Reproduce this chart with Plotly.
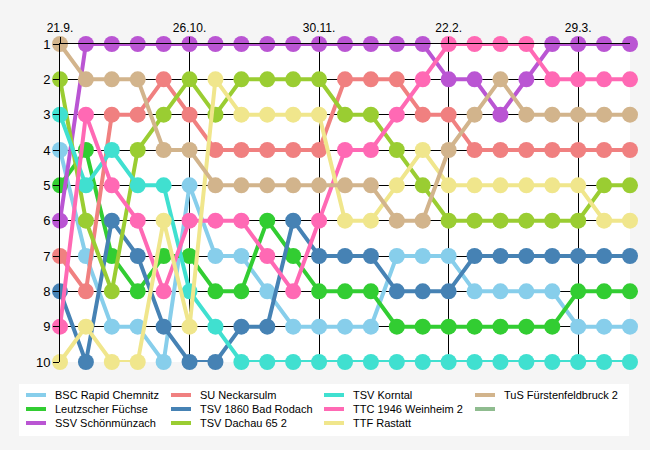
import plotly.graph_objects as go

# matchdays 1..23, ranks per team
matchdays = list(range(1, 24))
tick_days = [1, 6, 11, 16, 21]
tick_labels = ["21.9.", "26.10.", "30.11.", "22.2.", "29.3."]

teams = ["BSC Rapid Chemnitz", "Leutzscher Füchse", "SSV Schönmünzach",
         "SU Neckarsulm", "TSV 1860 Bad Rodach", "TSV Dachau 65 2",
         "TSV Korntal", "TTC 1946 Weinheim 2", "TTF Rastatt",
         "TuS Fürstenfeldbruck 2"]

bsc = [4, 7, 9, 9, 10, 5, 7, 7, 8, 9, 9, 9, 9, 7, 7, 7, 8, 8, 8, 8, 9, 9, 9]
leutzsch = [5, 4, 7, 8, 7, 7, 8, 8, 6, 7, 8, 8, 8, 9, 9, 9, 9, 9, 9, 9, 8, 8, 8]
ssv = [6, 1, 1, 1, 1, 1, 1, 1, 1, 1, 1, 1, 1, 1, 1, 2, 2, 3, 2, 1, 1, 1, 1]
neckarsulm = [7, 8, 3, 3, 2, 3, 4, 4, 4, 4, 4, 2, 2, 2, 3, 3, 4, 4, 4, 4, 4, 4, 4]
rodach = [8, 10, 6, 7, 9, 10, 10, 9, 9, 6, 7, 7, 7, 8, 8, 8, 7, 7, 7, 7, 7, 7, 7]
dachau = [2, 6, 8, 4, 3, 2, 3, 2, 2, 2, 2, 3, 3, 4, 5, 6, 6, 6, 6, 6, 6, 5, 5]
korntal = [3, 5, 4, 5, 5, 8, 9, 10, 10, 10, 10, 10, 10, 10, 10, 10, 10, 10, 10, 10, 10, 10, 10]
weinheim = [9, 3, 5, 6, 8, 6, 6, 6, 7, 8, 6, 4, 4, 3, 2, 1, 1, 1, 1, 2, 2, 2, 2]
rastatt = [10, 9, 10, 10, 6, 9, 2, 3, 3, 3, 3, 6, 6, 5, 4, 5, 5, 5, 5, 5, 5, 6, 6]
fuerstenfeldbruck = [1, 2, 2, 2, 4, 4, 5, 5, 5, 5, 5, 5, 5, 6, 6, 4, 3, 2, 3, 3, 3, 3, 3]

ranks = [bsc, leutzsch, ssv, neckarsulm, rodach, dachau, korntal,
         weinheim, rastatt, fuerstenfeldbruck]
colors = ["#87CEEB", "#32CD32", "#BA55D3", "#F08080", "#4682B4", "#9ACD32",
          "#40E0D0", "#FF69B4", "#F0E68C", "#D2B48C"]
extra_color = "#8FBC8F"

fig = go.Figure()
for name, r, c in zip(teams, ranks, colors):
    fig.add_trace(go.Scatter(x=matchdays, y=r, name=name, mode="lines+markers",
                             line=dict(color=c, width=4),
                             marker=dict(color=c, size=16),
                             cliponaxis=False, showlegend=False))

# plot area in pixels (for the hand-made legend)
L, R, T, B = 60, 630, 44, 362


def px(x):
    return (x - L) / (R - L)


def py(y):
    return (B - y) / (B - T)


shapes = [dict(type="rect", xref="paper", yref="paper",
               x0=px(19), x1=px(629), y0=py(436), y1=py(384),
               fillcolor="white", line=dict(width=0), layer="below")]
annotations = []
col_line = [26, 171, 324, 475]
row_y = [395, 409, 423]
entries = list(zip(teams, colors)) + [("", extra_color)]
for i, (name, c) in enumerate(entries):
    cx = col_line[i // 3]
    cy = row_y[i % 3]
    shapes.append(dict(type="line", xref="paper", yref="paper",
                       x0=px(cx), x1=px(cx + 20), y0=py(cy), y1=py(cy),
                       line=dict(color=c, width=4)))
    if name:
        annotations.append(dict(text=name, xref="paper", yref="paper",
                                x=px(cx + 27), y=py(cy), xanchor="left",
                                yanchor="middle", showarrow=False,
                                font=dict(size=11, color="black")))

fig.update_layout(
    width=650, height=450,
    margin=dict(l=L, r=650 - R, t=T, b=450 - B),
    paper_bgcolor="#F5F5F5", plot_bgcolor="white",
    font=dict(family="Liberation Sans", size=12, color="black"),
    shapes=shapes, annotations=annotations,
    xaxis=dict(range=[1, 23], side="top", tickvals=tick_days,
               ticktext=tick_labels, showgrid=True, gridcolor="black",
               gridwidth=1, ticks="outside", ticklen=6, tickcolor="black",
               showline=True, linecolor="black", zeroline=False),
    yaxis=dict(range=[10, 1], tickvals=list(range(1, 11)), showgrid=True,
               gridcolor="black", gridwidth=1, ticks="outside", ticklen=6,
               tickcolor="black", showline=True, linecolor="black",
               zeroline=False, tickfont=dict(size=13)),
)

fig.write_html("out.html", config={"displayModeBar": False},
               post_script="document.body.style.margin = '0';")
